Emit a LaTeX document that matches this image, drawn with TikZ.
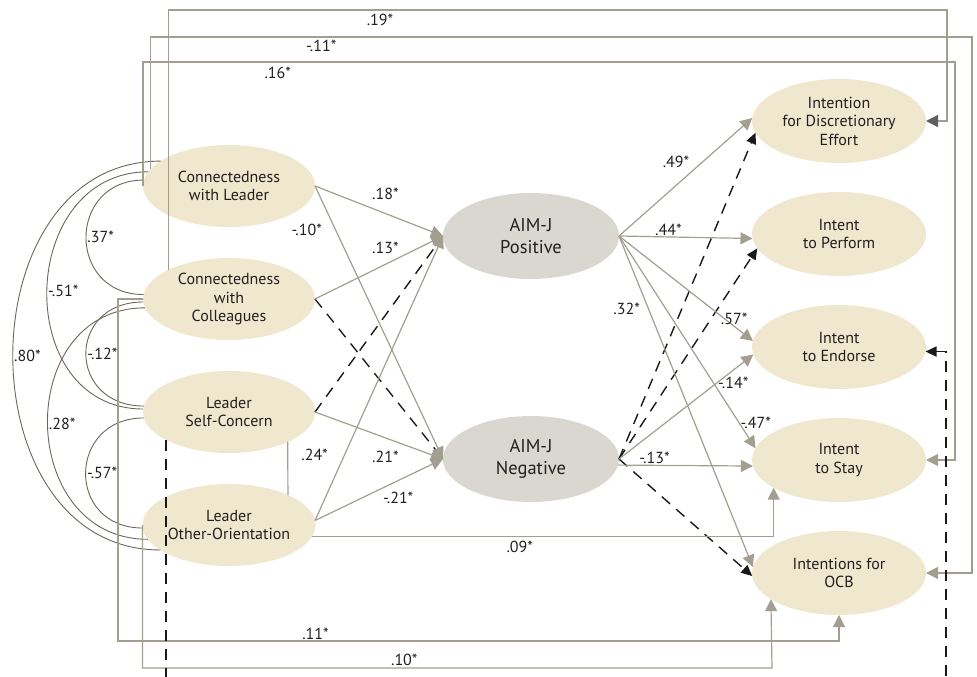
\documentclass[tikz,border=0pt]{standalone}
\usepackage{fontspec}
\setmainfont{PT Sans}
\usetikzlibrary{arrows.meta,positioning,shapes.geometric}

\definecolor{creamfill}{HTML}{EFE7CE}
\definecolor{aimfill}{HTML}{DAD7D0}
\definecolor{pathgray}{HTML}{A39E90}
\definecolor{arcgray}{HTML}{6E6658}
\definecolor{tipgray}{HTML}{5F5F5F}
\definecolor{inktext}{HTML}{231F20}

\tikzset{
  factor/.style={ellipse, fill=creamfill, text=inktext, align=center,
    minimum width=172pt, minimum height=82pt, inner sep=0pt, outer sep=0pt},
  aim/.style={factor, fill=aimfill, minimum width=176pt, minimum height=86pt,
    font=\fontsize{18.5}{22}\selectfont},
  outcome/.style={factor, minimum width=174pt, minimum height=84pt},
  link/.style={draw=pathgray, line width=1.2pt, -{Triangle[length=12pt,width=12pt]}},
  dlink/.style={draw=black!90, line width=1.4pt, dash pattern=on 11pt off 8pt,
    -{Triangle[length=11pt,width=10pt]}},
  corr/.style={draw=arcgray, line width=0.9pt},
  coef/.style={text=inktext, inner sep=1pt}
}

\begin{document}
\begin{tikzpicture}[x=1pt, y=-1pt, node distance=113pt, font=\fontsize{16}{18.5}\selectfont]
\useasboundingbox (0,0) rectangle (977,677);

% predictors
\node (cl) [factor] at (229,186) {Connectedness\\with Leader};
\node (cc) [factor, below of=cl] {Connectedness\\with\\Colleagues};
\node (lsc) [factor, below of=cc] {Leader\\Self-Concern};
\node (loo) [factor, below of=lsc] {Leader\\Other-Orientation};

% mediators
\node (pos) [aim] at (531,236) {AIM-J\\Positive};
\node (neg) [aim] at (531,459) {AIM-J\\Negative};

% outcomes
\node (ide) [outcome] at (839,121) {Intention\\for Discretionary\\Effort};
\node (ip) [outcome, below of=ide] {Intent\\to Perform};
\node (ie) [outcome, below of=ip] {Intent\\to Endorse};
\node (is) [outcome, below of=ie] {Intent\\to Stay};
\node (ocb) [outcome, below of=is] {Intentions for\\OCB};

% correlations
\draw[corr] (cl.176) .. controls +(-77,0) and +(-77,0) .. node[coef, right] {.37*} (cc.177);
\draw[corr] (cl.170) .. controls +(-132,0) and +(-132,0) .. node[coef, right] {-.51*} (lsc.178);
\draw[corr] (cl.160) .. controls +(-197,0) and +(-197,0) .. node[coef, right] {.80*} (loo.200);
\draw[corr] (cc.182) .. controls +(-77,0) and +(-77,0) .. node[coef, right] {-.12*} (lsc.176);
\draw[corr] (cc.186) .. controls +(-132,0) and +(-132,0) .. node[coef, right] {.28*} (loo.190);
\draw[corr] (lsc.184) .. controls +(-77,0) and +(-77,0) .. node[coef, right] {-.57*} (loo.182);
\draw[draw=pathgray, line width=1.2pt] (lsc.-27.4) -- (loo.27.4);

% predictors -> AIM-J
\draw[dlink] (cc.east) -- (neg.west);
\draw[dlink] (lsc.east) -- (pos.west);
\draw[link] (cl.east) -- node[coef, pos=.55, above=12pt] {.18*} (pos.west);
\draw[link] (cl.east) -- node[coef, pos=.16, left=12pt] {-.10*} (neg.west);
\draw[link] (cc.east) -- node[coef, pos=.55, above=9pt] {.13*} (pos.west);
\draw[link] (lsc.east) -- node[coef, pos=.55, below=12pt] {.21*} (neg.west);
\draw[link] (loo.3) -- node[coef, pos=.23, left=15pt] {.24*} (pos.west);
\draw[link] (loo.3) -- node[coef, pos=.65, below=10pt] {-.21*} (neg.west);

% AIM-J -> outcomes
\draw[dlink] (neg.east) -- (ide.188);
\draw[dlink] (neg.east) -- (ip.190);
\draw[dlink] (neg.east) -- (ocb.182);
\draw[link] (pos.east) -- node[coef, pos=.55, above left=2pt] {.49*} (ide.178);
\draw[link] (pos.east) -- node[coef, pos=.37, above=0pt] {.44*} (ip.183);
\draw[link] (pos.east) -- node[coef, pos=.86, above=0pt] {.57*} (ie.176);
\draw[link] (pos.east) -- node[coef, pos=.88, right=0pt] {-.47*} (is.172);
\draw[link] (pos.east) -- node[coef, pos=.22, left=7pt] {.32*} (ocb.176);
\draw[link] (neg.east) -- node[coef, pos=.85, below=5pt] {-.14*} (ie.185);
\draw[link] (neg.-4) -- node[coef, pos=.27, above=0pt] {-.13*} (is.184);

% direct paths
\draw[link] (loo.-8) -| node[coef, pos=.225, below=3pt] {.09*} (is.203.2);
\draw[link] (cc.west) -| (118,641) -| node[coef, pos=.137, above=0pt] {.11*} (ocb.south);
\draw[link] (loo.west) |- node[coef, pos=.708, above=1pt] {.10*} (772,668) -- (ocb.201.8);
\draw[link, -{Triangle[length=12pt,width=12pt,color=tipgray]}] (cc.north west) |- node[coef, pos=.636, below=2pt] {.19*} (947,10) |- (ide.east);
\draw[link] (cl.168) |- node[coef, pos=.604, below=1pt] {-.11*} (972,37) |- (ocb.east);
\draw[link] (cl.west) |- node[coef, pos=.583, below=3pt] {.16*} (955,62) |- (is.east);
\draw[dlink] (lsc.204.4) |- (946,700) |- (ie.-3);
\end{tikzpicture}
\end{document}
